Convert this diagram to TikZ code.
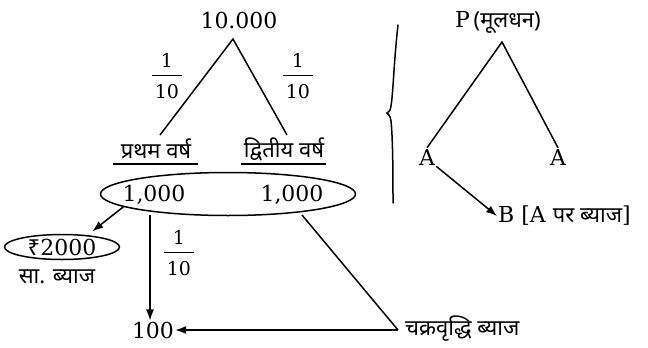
\documentclass[tikz,border=0pt]{standalone}
\usepackage{fontspec}
\setmainfont{DejaVu Serif}
\newfontfamily\dev[Script=Devanagari]{Noto Sans}
\usetikzlibrary{arrows.meta,shapes.geometric}
\newcommand\myfrac[2]{\begin{tabular}{@{\hspace{3pt}}c@{\hspace{3pt}}}\rule[-7pt]{0pt}{14pt}#1\\\hline\rule{0pt}{24pt}#2\end{tabular}}
\begin{document}
\begin{tikzpicture}[x=1pt,y=-1pt,
  lbl/.style={inner sep=1pt,font=\fontsize{22}{24}\selectfont},
  dlbl/.style={inner sep=1pt,font=\fontsize{22}{24}\selectfont\dev},
  frc/.style={inner sep=0pt,font=\fontsize{19}{21}\selectfont},
  ln/.style={line width=1.5pt},
  arr/.style={line width=1.5pt,-{Latex[length=11pt,width=8pt]}}]
\useasboundingbox (0,0) rectangle (648,348);
% left tree
\node[lbl] (top) at (239,20) {10.000};
\coordinate (apex) at (233,39);
\coordinate (l1) at (160,135);
\coordinate (r1) at (287,135);
\draw[ln] (l1) -- (apex) -- (r1);
\node[frc] (f1) at (167,79) {\myfrac{1}{10}};
\node[frc] (f2) at (298,79) {\myfrac{1}{10}};
\node[dlbl] (y1) at (156,149) {प्रथम वर्ष};
\node[dlbl] (y2) at (284,149) {द्वितीय वर्ष};
\draw[ln] (113,164) -- (198,164);
\draw[ln] (241,164) -- (326,164);
\node[draw,ellipse,ln,minimum width=255,minimum height=43,inner sep=0pt] (ell) at (228,194) {};
\node[lbl] (a1) at (154,195) {1,000};
\node[lbl] (a2) at (292,195) {1,000};
\node[draw,ellipse,ln,minimum width=115,minimum height=25,inner sep=0pt] (si) at (62,247) {};
\node[lbl] (sit) at (62,247) {{\dev ₹}2000};
\node[dlbl] (sil) at (57,277) {सा. ब्याज};
\draw[arr,shorten >=6pt] (ell.187) -- (si.25);
\node[lbl] (h) at (153,330) {100};
\coordinate (vtop) at (150,215);
\draw[arr] (vtop) -- (h.north -| vtop);
\node[frc] (f3) at (179,256) {\myfrac{1}{10}};
\coordinate (c1) at (302,215);
\coordinate (c2) at (398,330);
\node[dlbl,anchor=west] (ci) at (404,329) {चक्रवृद्धि ब्याज};
\draw[ln] (c1) -- (c2);
\draw[arr] (c2) -- (h.east);
% brace
\draw[ln,line cap=round] (398,25) .. controls (394,60) and (393,95) .. (391,106) .. controls (390,111) .. (387,113) .. controls (390,116) .. (391,121) .. controls (393,140) and (393,180) .. (393,203);
% right tree
\node[lbl,anchor=west] (p) at (454,22) {P\,{\dev(मूलधन)}};
\coordinate (apex2) at (502,42);
\node[lbl] (aa) at (427,157) {A};
\node[lbl] (ab) at (558,157) {A};
\draw[ln] (aa.north) -- (apex2) -- (ab.north);
\node[lbl,anchor=west] (b) at (497,216) {B [A {\dev पर ब्याज}]};
\draw[arr] (aa.south east) -- (b.west);
\end{tikzpicture}
\end{document}
